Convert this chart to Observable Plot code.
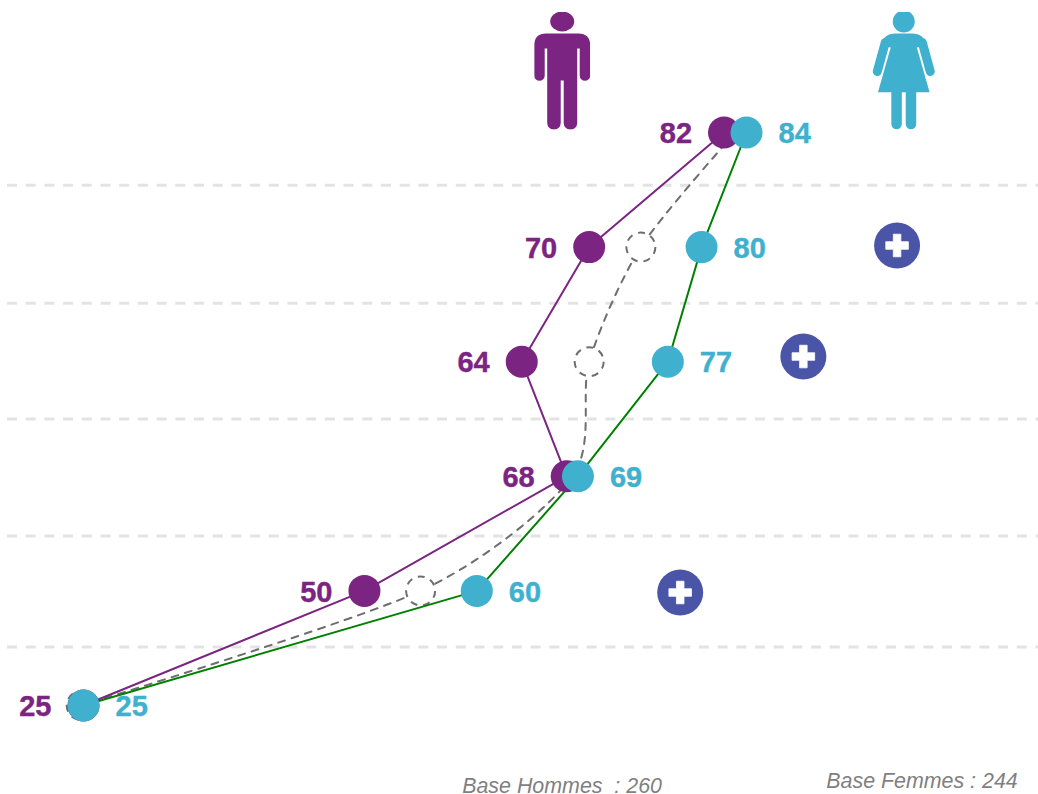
<!DOCTYPE html>
<html>
<head>
<meta charset="utf-8">
<script src="https://cdn.jsdelivr.net/npm/d3@7"></script>
<script src="https://cdn.jsdelivr.net/npm/@observablehq/plot@0.6"></script>
<style>html,body{margin:0;padding:0;background:#fff;overflow:hidden}svg{display:block}</style>
</head>
<body>
<div id="chart"></div>
<script>
// Row positions (top to bottom) and values
const rows = [0, 1, 2, 3, 4, 5];
const hommes = [82, 70, 64, 68, 50, 25];
const femmes = [84, 80, 77, 69, 60, 25];
const ensemble = [83, 74.6, 70, 68.5, 55, 24.8];
const ensembleDots = [1, 2, 3, 4, 5];
const separators = [0.46, 1.49, 2.5, 3.52, 4.49];
const plusX = [97.4, 89.06, 78.1];
const plusRow = [0.986, 1.955, 4.014];
const footerText = ["Base Hommes\u00a0 : 260", "Base Femmes : 244"];
const footerX = [58.7, 91.1];
const footerRow = [5.70, 5.663];
const iconX = [67.6, 98.04];
const iconRow = [-0.541, -0.541];

const purple = "#7B2481", teal = "#3FB1CE", green = "#008000", gray = "#6E6E6E", blue = "#4A55A8";

const manSvg = `<svg xmlns="http://www.w3.org/2000/svg" viewBox="0 0 56 118"><ellipse cx="28" cy="10" rx="12" ry="10" fill="${purple}"/><path fill="${purple}" d="M0 34Q0 22 12 22H44Q56 22 56 34V64A5.25 5.25 0 0 1 45.5 64V37H43V111.5A6.75 6.75 0 0 1 29.5 111.5V69H26.5V111.5A6.75 6.75 0 0 1 13 111.5V37H10.5V64A5.25 5.25 0 0 1 0 64Z"/></svg>`;
const womanSvg = `<svg xmlns="http://www.w3.org/2000/svg" viewBox="0 0 64 118"><circle cx="31.5" cy="10" r="11" fill="${teal}"/><path fill="${teal}" d="M9 34Q11 22 23 22H40Q52 22 54 34L45 36H18Z"/><path fill="${teal}" d="M18.7 35H44.3L57.3 80.7H5.7Z"/><path fill="none" stroke="${teal}" stroke-width="9" stroke-linecap="round" d="M13 31L5 60M50 31L58 60"/><path fill="none" stroke="${teal}" stroke-width="10.5" stroke-linecap="round" d="M24.3 78V112.5M38.7 78V112.5"/></svg>`;
const icons = [manSvg, womanSvg].map(s => "data:image/svg+xml;utf8," + encodeURIComponent(s));

const num = {fontFamily: "Liberation Sans", fontWeight: 700, fontSize: 29, strokeWidth: 0.4};

const chart = Plot.plot({
  width: 1038,
  height: 794,
  marginLeft: 7,
  marginRight: 0,
  marginTop: 0,
  marginBottom: 0,
  x: {type: "linear", domain: [25, 84], range: [83, 746], axis: null},
  y: {type: "linear", domain: [0, 5], range: [132, 705], axis: null},
  marks: [
    Plot.ruleY(separators, {stroke: "#E3E3E3", strokeWidth: 3, strokeDasharray: "10,8.7"}),
    Plot.line(rows, {x: i => ensemble[i], y: i => i, stroke: gray, strokeWidth: 2, strokeDasharray: "7,7", curve: "cardinal", tension: 0.2}),
    Plot.dot(ensembleDots, {x: i => ensemble[i], y: i => i, r: 14.5, fill: "#fff", stroke: gray, strokeWidth: 2, strokeDasharray: "7,6"}),
    Plot.line(rows, {x: i => hommes[i], y: i => i, stroke: purple, strokeWidth: 2}),
    Plot.line(rows, {x: i => femmes[i], y: i => i, stroke: green, strokeWidth: 2}),
    Plot.dot(rows, {x: i => hommes[i], y: i => i, r: 16, fill: purple}),
    Plot.dot(rows, {x: i => femmes[i], y: i => i, r: 16, fill: teal}),
    Plot.text(rows, {x: i => hommes[i], y: i => i, text: i => String(hommes[i]), dx: -32, dy: 1.5, textAnchor: "end", fill: purple, stroke: purple, ...num}),
    Plot.text(rows, {x: i => femmes[i], y: i => i, text: i => String(femmes[i]), dx: 32, dy: 1.5, textAnchor: "start", fill: teal, stroke: teal, ...num}),
    Plot.dot(plusX, {x: d => d, y: (d, i) => plusRow[i], r: 23, fill: blue}),
    Plot.dot(plusX, {x: d => d, y: (d, i) => plusRow[i], r: 9.5, symbol: "cross", fill: "#fff", stroke: "#fff", strokeWidth: 0.8, strokeLinejoin: "round"}),
    Plot.image([0, 1], {x: i => iconX[i], y: i => iconRow[i], src: i => icons[i], width: i => i ? 64 : 56, height: 118}),
    Plot.text(footerText, {x: (d, i) => footerX[i], y: (d, i) => footerRow[i], text: d => d, textAnchor: "start", fill: "#7F7F7F", fontFamily: "Liberation Sans", fontStyle: "italic", fontSize: 21.4})
  ]
});
document.getElementById("chart").append(chart);
</script>
</body>
</html>
